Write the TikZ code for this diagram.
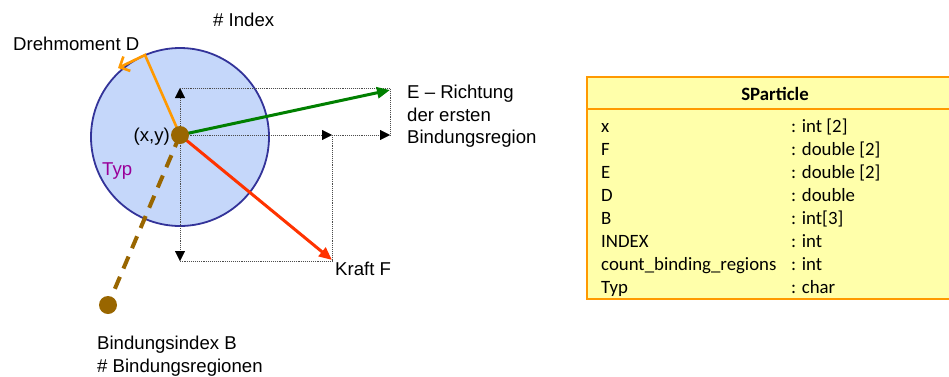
\documentclass[tikz,border=0pt]{standalone}
\usepackage{fontspec}
\setmainfont{Liberation Sans}
\newfontfamily\tablefont{Carlito}
\usetikzlibrary{arrows.meta}
\definecolor{cellfill}{RGB}{197,215,250}
\definecolor{celledge}{RGB}{51,51,153}
\definecolor{particle}{RGB}{153,102,0}
\definecolor{forcered}{RGB}{255,51,0}
\definecolor{dirgreen}{RGB}{0,128,0}
\definecolor{torqueorange}{RGB}{255,153,0}
\definecolor{typpurple}{RGB}{153,0,153}
\definecolor{tablefill}{RGB}{255,255,170}
\definecolor{tableedge}{RGB}{255,153,0}
\begin{document}
\begin{tikzpicture}[x=1pt,y=-1pt,
  lbl/.style={font=\fontsize{18.6}{22}\selectfont, inner sep=0pt, anchor=base west},
  rowtxt/.style={font=\tablefont\fontsize{18.8}{22}\selectfont, inner sep=0pt, anchor=base west},
  helper/.style={densely dotted, line width=0.9pt, draw=black!70},
  helpertip/.style={-{Triangle[length=10pt,width=10pt,color=black,fill=black,line width=0.4pt]}},
  vec/.style={line width=3pt, -{Triangle[length=13pt,width=11pt]}},
  dotnode/.style={circle, fill=particle, inner sep=0pt, minimum size=18pt}]
\useasboundingbox (0,0) rectangle (949,376);

% particle body
\node[circle, draw=celledge, line width=1.8pt, fill=cellfill, minimum size=178pt, inner sep=0pt] (cell) at (180,137) {};

% component construction lines
\coordinate (ytop) at (180,88);
\coordinate (ybot) at (180,261);
\coordinate (etip) at (390,90);
\coordinate (ecorner) at (390,88);
\coordinate (ex) at (390,135);
\coordinate (fx) at (332,135);
\coordinate (ftip) at (332,260);
\coordinate (fcorner) at (332,261);
\coordinate (origin) at (180,135);

\draw[helper, helpertip] (origin) -- (ytop);
\draw[helper, helpertip] (origin) -- (ybot);
\draw[helper] (ytop) -- (ecorner) -- (ex);
\draw[helper, helpertip] (origin) -- (fx);
\draw[helper, helpertip] (fx) -- (ex);
\draw[helper] (fx) -- (fcorner) -- (ybot);

% binding partner (dashed link)
\node[dotnode] (bond) at (108,305) {};
\draw[particle, line width=4pt, dash pattern=on 13pt off 9pt] (origin) -- (bond);

% torque
\coordinate (dknee) at (145,55);
\coordinate (dtip) at (118,68);
\draw[torqueorange, line width=2.6pt, line join=miter, -{Straight Barb[length=8pt,width=16pt,line width=2.6pt]}] (origin) -- (dknee) -- (dtip);

% direction of first binding region and force
\draw[vec, dirgreen] (origin) -- (etip);
\draw[vec, forcered] (origin) -- (ftip);

% particle position
\node[dotnode] (p) at (origin) {};

% labels
\node[lbl] (index) at (213,26) {\# Index};
\node[lbl] (torque) at (13,50) {Drehmoment D};
\node[lbl, anchor=base east] (pos) at (170,141) {(x,y)};
\node[lbl, text=typpurple] (typ) at (102,175) {Typ};
\node[lbl] (e1) at (407,98) {E -- Richtung};
\node[lbl] (e2) at (407,121) {der ersten};
\node[lbl] (e3) at (407,143) {Bindungsregion};
\node[lbl] (force) at (335,275) {Kraft F};
\node[lbl] (b1) at (97,349) {Bindungsindex B};
\node[lbl] (b2) at (97,372) {\# Bindungsregionen};

% structure table
\draw[draw=tableedge, line width=2pt, fill=tablefill] (587,77) rectangle (960,299);
\draw[draw=tableedge, line width=1.2pt] (587,109) -- (960,109);
\node[font=\tablefont\bfseries\fontsize{18.8}{22}\selectfont, inner sep=0pt, anchor=base] (title) at (775,100) {SParticle};

\foreach \n/\t/\b [count=\i] in {x/{: int [2]}/132, F/{: double [2]}/155, E/{: double [2]}/178, D/{: double}/201, B/{: int[3]}/224, INDEX/{: int}/247, count\_binding\_regions/{: int}/270, Typ/{: char}/293} {
  \node[rowtxt] (name\i) at (601,\b) {\n};
  \node[rowtxt] (type\i) at (791,\b) {\t};
}
\end{tikzpicture}
\end{document}
